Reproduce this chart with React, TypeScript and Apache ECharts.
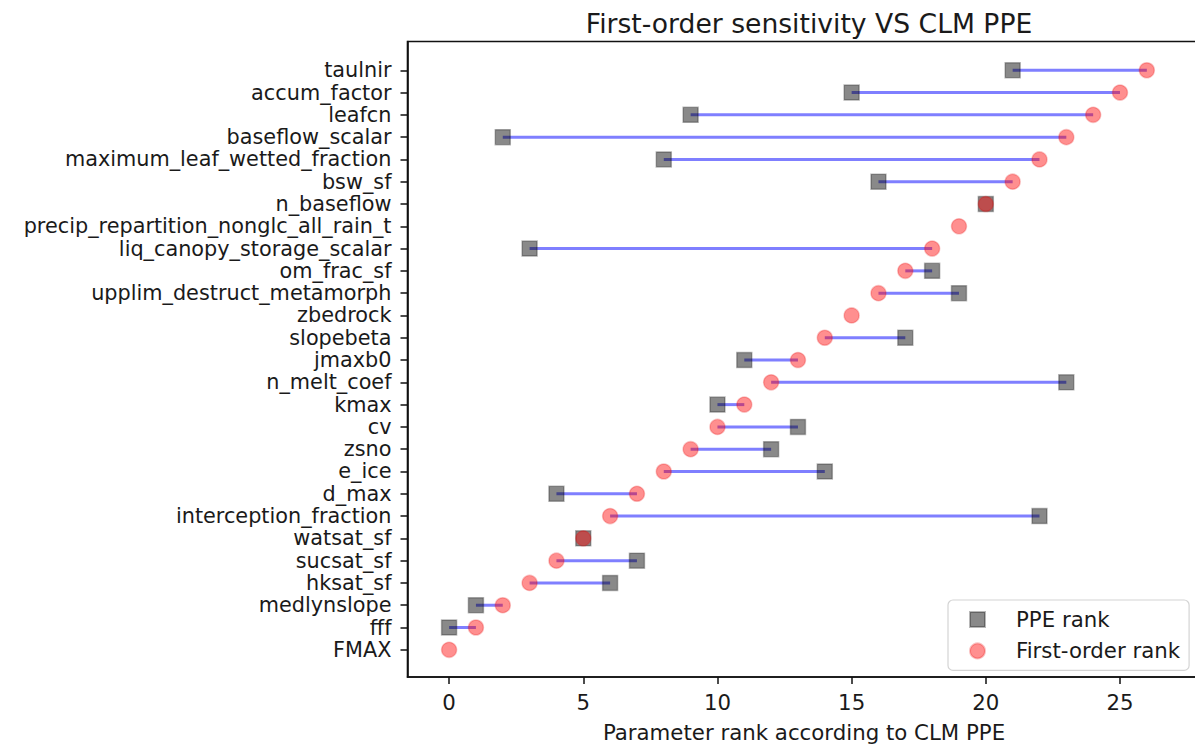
import React, { useEffect, useRef } from "react";
import * as echarts from "echarts";

// Parameters, bottom row first (row index = first-order rank)
const parameters = [
  "FMAX",
  "fff",
  "medlynslope",
  "hksat_sf",
  "sucsat_sf",
  "watsat_sf",
  "interception_fraction",
  "d_max",
  "e_ice",
  "zsno",
  "cv",
  "kmax",
  "n_melt_coef",
  "jmaxb0",
  "slopebeta",
  "zbedrock",
  "upplim_destruct_metamorph",
  "om_frac_sf",
  "liq_canopy_storage_scalar",
  "precip_repartition_nonglc_all_rain_t",
  "n_baseflow",
  "bsw_sf",
  "maximum_leaf_wetted_fraction",
  "baseflow_scalar",
  "leafcn",
  "accum_factor",
  "taulnir",
];

const firstOrderRank = [
  0, 1, 2, 3, 4, 5, 6, 7, 8, 9, 10, 11, 12, 13, 14, 15, 16, 17, 18, 19, 20,
  21, 22, 23, 24, 25, 26,
];

// PPE rank (null where the parameter has no PPE rank)
const ppeRank: (number | null)[] = [
  null, 0, 1, 6, 7, 5, 22, 4, 14, 12, 13, 10, 23, 11, 17, null, 19, 18, 3,
  null, 20, 16, 8, 2, 9, 15, 21,
];

const xTicks = [0, 5, 10, 15, 20, 25];

const FONT = "DejaVu Sans";
const TEXT = "#1a1a1a";
const LABEL_SIZE = 21.3;
const ROW_LABEL_SIZE = 20.8;

export default function App() {
  const ref = useRef<HTMLDivElement>(null);

  useEffect(() => {
    if (!ref.current) return;
    document.body.style.overflow = "hidden";
    const chart = echarts.init(ref.current, null, { renderer: "svg" });

    const rows = parameters.map((_, i) => i);
    const linkData = rows
      .filter((i) => ppeRank[i] !== null)
      .map((i) => [ppeRank[i] as number, firstOrderRank[i], i]);
    const ppeData = rows
      .filter((i) => ppeRank[i] !== null)
      .map((i) => [ppeRank[i] as number, i]);
    const foData = rows.map((i) => [firstOrderRank[i], i]);

    chart.setOption({
      animation: false,
      backgroundColor: "#ffffff",
      textStyle: { fontFamily: FONT },
      title: {
        text: "First-order sensitivity VS CLM PPE",
        left: 804,
        top: 5,
        textAlign: "center",
        textStyle: {
          fontFamily: FONT,
          fontSize: 26.6,
          fontWeight: "normal",
          color: TEXT,
        },
      },
      grid: {
        left: 407.5,
        top: 41.5,
        width: 793,
        height: 639,
        show: true,
        borderColor: "#111",
        borderWidth: 1.6,
        backgroundColor: "transparent",
      },
      legend: {
        orient: "vertical",
        left: 948,
        top: 600,
        data: ["PPE rank", "First-order rank"],
        itemWidth: 15,
        itemHeight: 15,
        itemGap: 8.4,
        padding: [8, 9, 8, 21],
        borderColor: "#d4d4d4",
        borderWidth: 1.2,
        borderRadius: 5,
        backgroundColor: "rgba(255,255,255,0.85)",
        textStyle: {
          fontFamily: FONT,
          fontSize: LABEL_SIZE,
          color: TEXT,
          lineHeight: 23,
          padding: [0, 0, 0, 26],
        },
      },
      xAxis: {
        type: "value",
        min: -1.55,
        max: 28,
        name: "Parameter rank according to CLM PPE",
        nameLocation: "middle",
        nameGap: 45,
        nameTextStyle: { fontFamily: FONT, fontSize: LABEL_SIZE, color: TEXT },
        axisLine: {
          show: true,
          onZero: false,
          lineStyle: { color: "#111", width: 1.6 },
        },
        axisTick: {
          show: true,
          length: 7,
          lineStyle: { color: "#111", width: 1.5 },
          customValues: xTicks,
        },
        axisLabel: {
          fontFamily: FONT,
          fontSize: LABEL_SIZE,
          color: TEXT,
          margin: 15,
          customValues: xTicks,
        },
        splitLine: { show: false },
      },
      yAxis: {
        type: "value",
        min: -1.22,
        max: 27.29,
        axisLine: {
          show: true,
          onZero: false,
          lineStyle: { color: "#111", width: 1.6 },
        },
        axisTick: {
          show: true,
          length: 7,
          lineStyle: { color: "#111", width: 1.5 },
          customValues: rows,
        },
        axisLabel: {
          fontFamily: FONT,
          fontSize: ROW_LABEL_SIZE,
          lineHeight: 20,
          color: TEXT,
          margin: 16,
          customValues: rows,
          formatter: (v: number) => parameters[Math.round(v)] ?? "",
        },
        splitLine: { show: false },
      },
      series: [
        {
          name: "link",
          type: "custom",
          z: 1,
          data: linkData,
          encode: { x: [0, 1], y: 2 },
          renderItem: (_params: any, api: any) => {
            const a = api.coord([api.value(0), api.value(2)]);
            const b = api.coord([api.value(1), api.value(2)]);
            return {
              type: "line",
              shape: { x1: a[0], y1: a[1], x2: b[0], y2: b[1] },
              style: { stroke: "rgba(0,0,255,0.5)", lineWidth: 3 },
            };
          },
        },
        {
          name: "PPE rank",
          type: "scatter",
          z: 2,
          symbol: "rect",
          symbolSize: 15,
          data: ppeData,
          itemStyle: {
            color: "rgba(0,0,0,0.58)",
            borderColor: "rgba(0,0,0,0.35)",
            borderWidth: 1.5,
          },
        },
        {
          name: "First-order rank",
          type: "scatter",
          z: 3,
          symbol: "circle",
          symbolSize: 15,
          data: foData,
          itemStyle: {
            color: "rgba(255,0,0,0.55)",
            borderColor: "rgba(230,0,0,0.3)",
            borderWidth: 1.5,
          },
        },
      ],
    });

    return () => {
      chart.dispose();
    };
  }, []);

  return (
    <div
      ref={ref}
      style={{ position: "fixed", left: 0, top: 0, width: 1215, height: 748 }}
    />
  );
}
